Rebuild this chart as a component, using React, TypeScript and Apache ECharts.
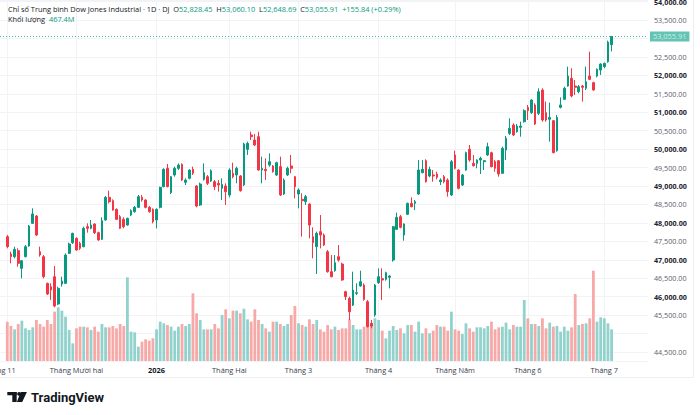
import React, { useEffect, useRef } from "react";
import * as echarts from "echarts";

const FONT = '"Open Sans", "Noto Sans", sans-serif';
const UP = "#089981";
const DOWN = "#f23645";
const UP_VOL = "#92d2cc";
const DOWN_VOL = "#f7a9a7";
const TAG = "#22ab94";

// [open, close, low, high] per trading day
const OHLC: number[][] = [
  [47626, 47355, 47310, 47671], [47156, 47084, 46903, 47219], [47084, 47283, 47039, 47355], [47247, 46903, 46813, 47310],
  [46767, 46975, 46496, 46993], [47084, 47355, 47066, 47400], [47373, 47915, 47355, 47942], [47988, 48241, 47969, 48394],
  [48186, 47671, 47644, 48213], [47219, 47129, 47084, 47355], [47084, 46541, 46496, 47129], [46361, 46072, 46045, 46379],
  [46271, 46180, 45909, 46361], [46541, 45746, 45710, 46831], [45801, 46225, 45774, 46271], [46343, 46424, 46271, 46541],
  [46361, 47129, 46343, 47174], [47174, 47427, 47156, 47463], [47463, 47716, 47427, 47734], [47581, 47265, 47247, 47608],
  [47445, 47310, 47265, 47490], [47355, 47852, 47337, 47897], [47897, 47852, 47734, 47988], [47852, 47942, 47825, 48078],
  [47969, 47734, 47698, 47988], [47734, 47536, 47517, 47762], [47554, 48060, 47536, 48150], [48078, 48693, 48060, 48729],
  [48693, 48575, 48530, 48873], [48602, 48349, 48331, 48638], [48367, 48096, 48078, 48394], [48168, 47852, 47834, 48213],
  [48096, 47897, 47852, 48150], [47942, 48123, 47924, 48141], [48213, 48331, 48186, 48367], [48304, 48421, 48277, 48457],
  [48421, 48711, 48403, 48756], [48693, 48620, 48575, 48756], [48620, 48421, 48394, 48638], [48421, 48304, 48277, 48457],
  [48367, 48033, 47988, 48394], [48078, 48367, 47852, 48394], [48421, 48964, 48394, 48982], [48982, 49452, 48964, 49479],
  [49479, 48982, 48964, 49596], [48819, 49253, 48783, 49271], [49298, 49479, 49253, 49524], [49479, 49569, 49433, 49614],
  [49587, 49162, 49135, 49614], [49099, 49162, 49027, 49207], [49207, 49433, 49180, 49452], [49452, 49343, 49298, 49524],
  [49000, 48457, 48421, 49027], [48485, 49054, 48457, 49090], [49180, 49361, 49144, 49614], [49253, 49072, 49027, 49298],
  [49135, 49415, 49108, 49452], [49117, 48982, 48891, 49162], [49072, 49027, 48846, 49162], [48936, 49045, 48620, 49207],
  [49000, 48846, 48485, 49072], [48756, 49433, 48693, 49479], [49343, 49253, 49207, 49632], [49298, 49479, 49072, 49524],
  [49271, 48873, 48846, 49298], [49027, 50138, 49000, 50174], [49994, 50156, 49840, 50202], [50382, 50337, 50247, 50473],
  [50247, 50111, 50084, 50409], [50337, 49433, 49415, 50473], [49433, 49479, 49072, 49795], [49452, 49415, 49162, 49750],
  [49569, 49659, 49524, 49885], [49542, 49388, 49361, 49569], [49298, 49632, 49271, 49659], [49524, 48756, 48729, 49795],
  [48783, 49162, 48756, 49207], [49298, 49479, 49271, 49524], [49542, 49479, 49343, 49840], [49253, 48982, 48665, 49271],
  [48783, 48891, 48394, 48936], [48638, 48602, 47626, 48801], [48575, 48711, 48485, 48756], [48512, 47942, 47581, 48530],
  [47626, 47463, 47039, 47879], [47355, 47716, 46614, 47762], [47762, 47671, 47310, 48213], [47671, 47400, 47373, 47716],
  [47219, 46677, 46650, 47265], [46677, 46541, 46523, 47129], [46704, 46921, 46677, 47129], [47084, 46993, 46948, 47400],
  [46885, 46451, 46433, 46921], [46135, 46000, 45909, 46162], [45954, 45593, 45367, 46000], [45774, 46180, 45746, 46677],
  [46090, 46108, 46045, 46361], [46289, 46406, 46271, 46704], [46316, 45927, 45891, 46361], [45864, 45186, 45168, 45909],
  [45277, 45204, 45141, 45367], [45502, 46316, 45457, 46343], [46379, 46541, 46343, 46767], [46487, 46451, 45909, 46767],
  [46469, 46650, 46433, 46677], [46523, 46559, 46225, 46586], [46993, 47897, 46948, 47915], [47825, 48150, 47807, 48277],
  [48168, 47879, 47852, 48213], [47671, 47969, 47517, 47988], [48232, 48530, 48213, 48548], [48530, 48439, 48421, 48693],
  [48530, 48575, 48349, 48620], [48783, 49433, 48756, 49705], [49361, 49452, 49343, 49705], [49686, 49117, 49090, 49723],
  [49271, 49452, 49235, 49524], [49298, 49271, 49117, 49433], [49325, 49235, 49180, 49388], [49117, 49162, 49027, 49207],
  [49253, 49117, 49072, 49298], [49162, 48846, 48711, 49207], [48756, 49659, 48729, 49705], [49840, 49479, 49452, 49958],
  [49433, 48936, 48909, 49452], [49027, 49298, 49000, 49325], [49433, 49903, 49415, 49930], [49994, 49704, 49659, 50111],
  [49614, 49551, 49524, 49840], [49614, 49704, 49479, 49723], [49704, 49750, 49325, 49795], [49659, 49686, 49433, 49704],
  [49840, 50066, 49813, 50174], [49903, 49524, 49506, 49930], [49659, 49479, 49388, 49704], [49686, 49325, 49253, 49704],
  [49343, 50021, 49325, 50066], [49976, 50292, 49704, 50355], [50427, 50563, 50382, 50834], [50653, 50382, 50355, 50698],
  [50473, 50626, 50446, 50680], [50590, 50626, 50337, 50744], [50744, 51042, 50717, 51078], [51132, 51042, 50789, 51196],
  [50988, 51331, 50952, 51349], [51196, 50680, 50653, 51241], [50970, 51557, 50924, 51648], [51602, 50789, 50744, 51648],
  [50988, 50789, 50744, 51286], [50807, 50861, 50201, 51259], [50771, 49903, 49885, 50789], [49957, 50861, 49930, 50924],
  [51132, 51196, 51105, 51403], [51349, 51648, 51331, 51693], [51711, 51982, 51693, 52235], [51919, 51440, 51403, 52190],
  [51711, 51675, 51467, 51873], [51557, 51693, 51512, 51738], [51711, 51675, 51286, 51738], [51648, 51828, 51602, 52235],
  [51982, 51891, 51873, 52641], [51801, 51602, 51584, 51828], [51982, 52163, 51946, 52190], [52144, 52307, 52009, 52325],
  [52235, 52325, 52190, 52343], [52370, 52900.07, 52343, 52940], [52828.45, 53055.91, 52648.69, 53060.1],
];

// volume, millions
const VOLUME: number[] = [
  581, 517, 467, 546, 595, 482, 458, 497, 605, 546, 507, 605, 546, 728, 792, 743, 654, 458, 261, 482,
  507, 507, 497, 458, 507, 433, 546, 497, 497, 517, 482, 546, 517, 1235, 433, 423, 212, 285, 320, 300,
  335, 467, 581, 556, 531, 507, 448, 507, 546, 517, 546, 999, 704, 605, 467, 467, 467, 546, 482, 679,
  763, 630, 743, 743, 704, 772, 615, 581, 763, 605, 546, 482, 433, 581, 581, 546, 517, 546, 679, 812,
  556, 531, 507, 615, 546, 605, 467, 433, 531, 467, 507, 458, 482, 482, 615, 531, 467, 467, 507, 517,
  556, 630, 605, 448, 335, 448, 517, 458, 482, 408, 531, 531, 433, 581, 408, 482, 408, 448, 531, 507,
  507, 448, 728, 467, 448, 399, 556, 482, 433, 497, 497, 482, 517, 581, 467, 497, 507, 566, 467, 531,
  507, 507, 900, 630, 546, 546, 517, 630, 482, 566, 507, 517, 433, 507, 448, 497, 989, 531, 546, 556,
  630, 1333, 581, 645, 630, 556, 467.4,
];

const START_DATE = "2025-11-03";
const HOLIDAYS = ["2025-11-27", "2025-12-25", "2026-01-01", "2026-01-19", "2026-02-16", "2026-04-03", "2026-05-25", "2026-06-19", "2026-07-03"];
const MONTH_KEYS = ["2025-11", "2025-12", "2026-01", "2026-02", "2026-03", "2026-04", "2026-05", "2026-06", "2026-07"];
const MONTH_NAMES = ["Tháng 11", "Tháng Mười hai", "2026", "Tháng Hai", "Tháng 3", "Tháng 4", "Tháng Năm", "Tháng 6", "Tháng 7"];

const PRICE_MIN = 44256;
const PRICE_MAX = 54042;
const VOL_MAX = 5328;

const PAD_BEFORE = 2;
const PAD_AFTER = 10;

function buildTradingDays(start: string, count: number): string[] {
  const out: string[] = [];
  const d = new Date(start + "T00:00:00Z");
  while (out.length < count) {
    const wd = d.getUTCDay();
    const iso = d.toISOString().slice(0, 10);
    if (wd !== 0 && wd !== 6 && !HOLIDAYS.includes(iso)) out.push(iso);
    d.setUTCDate(d.getUTCDate() + 1);
  }
  return out;
}

const fmt = (v: number) => v.toLocaleString("en-US", { minimumFractionDigits: 2, maximumFractionDigits: 2 });

export default function App() {
  const ref = useRef<HTMLDivElement>(null);
  useEffect(() => {
    document.body.style.margin = "0";
    const dates = buildTradingDays(START_DATE, OHLC.length);
    const cats: string[] = [];
    for (let i = 0; i < PAD_BEFORE; i++) cats.push("pre" + i);
    dates.forEach((d) => cats.push(d));
    for (let i = 0; i < PAD_AFTER; i++) cats.push("post" + i);

    const gridIdx = new Map<number, number>();
    const labelIdx = new Map<number, string>();
    MONTH_KEYS.forEach((mk, m) => {
      const di = dates.findIndex((d) => d.startsWith(mk));
      if (di >= 0) {
        const ci = di + PAD_BEFORE;
        gridIdx.set(ci, m);
        labelIdx.set(m === 0 ? 0 : ci, MONTH_NAMES[m]);
      }
    });

    const candleData: any[] = [];
    const volData: any[] = [];
    for (let i = 0; i < PAD_BEFORE; i++) {
      candleData.push("-");
      volData.push("-");
    }
    OHLC.forEach((c, i) => {
      candleData.push(c);
      volData.push({ value: VOLUME[i], itemStyle: { color: c[1] >= c[0] ? UP_VOL : DOWN_VOL } });
    });

    const last = OHLC[OHLC.length - 1];
    const prev = OHLC[OHLC.length - 2];
    const chg = last[1] - prev[1];
    const pct = (chg / prev[1]) * 100;
    const lastVol = VOLUME[VOLUME.length - 1];
    // price level at which the volume tag sits (both axes share the same plot height)
    const volTagPrice = PRICE_MIN + (lastVol / VOL_MAX) * (PRICE_MAX - PRICE_MIN);
    const hiddenNear = (v: number) => Math.abs(v - last[1]) < 280 || Math.abs(v - volTagPrice) < 280;

    const header =
      `{n|Chỉ số Trung bình Dow Jones Industrial · 1D · DJ}  ` +
      `{k|O}{v|${fmt(last[0])}}  {k|H}{v|${fmt(last[3])}}  {k|L}{v|${fmt(last[2])}}  {k|C}{v|${fmt(last[1])}}  ` +
      `{v|${chg >= 0 ? "+" : ""}${fmt(chg)} (${chg >= 0 ? "+" : ""}${pct.toFixed(2)}%)}`;

    const rt = (color: string) => ({ fontSize: 7.4, color, fontFamily: FONT, fontWeight: "normal" as const });

    const chart = echarts.init(ref.current!, null, { renderer: "svg", width: 700, height: 415 });
    chart.setOption({
      animation: false,
      backgroundColor: "#ffffff",
      textStyle: { fontFamily: FONT },
      title: [
        {
          left: 8,
          top: 5,
          padding: 0,
          text: header,
          textStyle: {
            fontSize: 7.4,
            fontWeight: "normal",
            rich: { n: rt("#131722"), k: rt("#131722"), v: rt(UP) },
          },
        },
        {
          left: 8,
          top: 15,
          padding: 0,
          text: `{n|Khối lượng}  {v|${lastVol}M}`,
          textStyle: {
            fontSize: 7.4,
            fontWeight: "normal",
            rich: { n: rt("#131722"), v: rt(UP) },
          },
        },
      ],
      grid: { left: 0, right: 52, top: 0, bottom: 54, containLabel: false, outerBoundsMode: "none" },
      xAxis: {
        type: "category",
        data: cats,
        boundaryGap: false,
        axisLine: { show: false },
        axisTick: { show: false },
        axisLabel: {
          interval: (i: number) => labelIdx.has(i),
          formatter: (_v: string, i: number) => {
            const s = labelIdx.get(i) || "";
            return s === "2026" ? `{b|${s}}` : `{r|${s}}`;
          },
          margin: 5,
          rich: {
            r: { fontSize: 7.4, color: "#3a3e4a", fontFamily: FONT },
            b: { fontSize: 7.4, color: "#131722", fontWeight: "bold", fontFamily: FONT },
          },
        },
        splitLine: {
          show: true,
          interval: (i: number) => gridIdx.has(i),
          lineStyle: { color: "#f2f3f6", width: 1 },
        },
      },
      yAxis: [
        {
          type: "value",
          position: "right",
          min: PRICE_MIN,
          max: PRICE_MAX,
          splitNumber: 20,
          axisLine: { show: false },
          axisTick: { show: false },
          splitLine: { show: true, lineStyle: { color: "#f2f3f6", width: 1 } },
          axisLabel: {
            margin: 6,
            showMinLabel: false,
            showMaxLabel: false,
            formatter: (v: number) => (hiddenNear(v) ? "" : v % 1000 === 0 ? `{k|${fmt(v)}}` : `{h|${fmt(v)}}`),
            rich: {
              k: { fontSize: 7.2, color: "#1e222d", fontWeight: "bold", fontFamily: FONT },
              h: { fontSize: 7.2, color: "#5d606b", fontFamily: FONT },
            },
          },
        },
        {
          type: "value",
          min: 0,
          max: VOL_MAX,
          show: false,
          splitLine: { show: false },
        },
      ],
      series: [
        {
          type: "bar",
          name: "Khối lượng",
          yAxisIndex: 1,
          data: volData,
          barWidth: 2.8,
          z: 1,
          markLine: {
            symbol: ["none", "none"],
            silent: true,
            data: [{ yAxis: lastVol }],
            lineStyle: { opacity: 0 },
            label: {
              show: true,
              position: "end",
              distance: 2,
              formatter: `${lastVol}M`,
              color: "#ffffff",
              backgroundColor: TAG,
              padding: [2, 3, 1, 3],
              fontSize: 7.4,
              fontFamily: FONT,
            },
          },
        },
        {
          type: "candlestick",
          name: "DJI",
          data: candleData,
          barWidth: 2.2,
          z: 3,
          itemStyle: {
            color: UP,
            color0: DOWN,
            borderColor: UP,
            borderColor0: DOWN,
            borderWidth: 1,
          },
          markLine: {
            symbol: ["none", "none"],
            silent: true,
            data: [{ yAxis: last[1] }],
            lineStyle: { color: UP, type: [1, 2], width: 1, opacity: 0.7 },
            label: {
              show: true,
              position: "end",
              distance: 2,
              formatter: fmt(last[1]),
              color: "#ffffff",
              backgroundColor: TAG,
              padding: [2, 3, 1, 3],
              fontSize: 7.4,
              fontFamily: FONT,
            },
          },
        },
      ],
      graphic: [
        {
          type: "polyline",
          silent: true,
          shape: { points: [[0, 377.5], [693.5, 377.5], [693.5, 0]] },
          style: { stroke: "#eceef2", fill: "none", lineWidth: 1 },
        },
        {
          type: "group",
          silent: true,
          children: [
            { type: "rect", shape: { x: 7.3, y: 392, width: 9.4, height: 3.3 }, style: { fill: "#131722" } },
            { type: "rect", shape: { x: 12.3, y: 392, width: 4.4, height: 10 }, style: { fill: "#131722" } },
            { type: "circle", shape: { cx: 19, cy: 393.9, r: 1.8 }, style: { fill: "#131722" } },
            { type: "polygon", shape: { points: [[20.6, 392], [26.9, 392], [22.2, 402], [16.9, 402]] }, style: { fill: "#131722" } },
            {
              type: "text",
              x: 31,
              y: 397,
              style: {
                text: "TradingView",
                fill: "#131722",
                font: 'bold 13px Roboto, "Open Sans", sans-serif',
                verticalAlign: "middle",
              },
            },
          ],
        },
      ],
    });
    return () => chart.dispose();
  }, []);
  return <div ref={ref} style={{ position: "absolute", left: 0, top: 0, width: 700, height: 415, background: "#fff" }} />;
}
